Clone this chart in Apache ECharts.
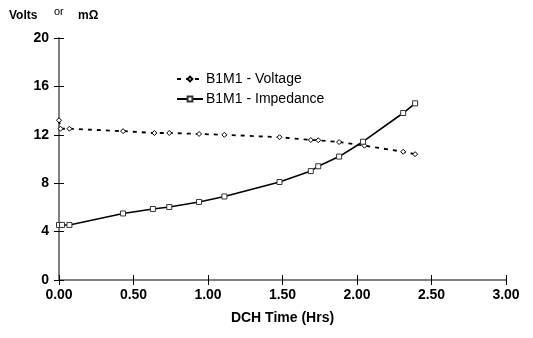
<!DOCTYPE html>
<html><head><meta charset="utf-8">
<script src="https://cdn.jsdelivr.net/npm/echarts@6/dist/echarts.min.js"></script>
<style>html,body{margin:0;padding:0;background:#fff}#c{width:533px;height:338px}</style>
</head><body><div id="c"></div>
<script>
var voltTime = [0, 0.01, 0.07, 0.43, 0.64, 0.74, 0.94, 1.11, 1.48, 1.69, 1.74, 1.88, 2.05, 2.31, 2.39];
var voltValues = [13.2, 12.5, 12.5, 12.3, 12.15, 12.15, 12.07, 12.0, 11.8, 11.57, 11.55, 11.4, 11.1, 10.6, 10.4];
var impTime = [0, 0.02, 0.07, 0.43, 0.63, 0.74, 0.94, 1.11, 1.48, 1.69, 1.74, 1.88, 2.04, 2.31, 2.39];
var impValues = [4.55, 4.55, 4.55, 5.5, 5.87, 6.03, 6.45, 6.9, 8.1, 9.0, 9.4, 10.2, 11.43, 13.8, 14.6];
var xTicks = [0, 0.5, 1, 1.5, 2, 2.5, 3];
var yTicks = [0, 4, 8, 12, 16, 20];
var seriesNames = ['B1M1 - Voltage', 'B1M1 - Impedance'];

function pairs(xs, ys){ return xs.map(function(x,i){ return [x, ys[i]]; }); }
var FONT = 'Liberation Sans, Arial, sans-serif';
var chart = echarts.init(document.getElementById('c'), null, {renderer:'canvas'});
var axisCol = '#808080';
chart.setOption({
  animation: false,
  backgroundColor: '#fff',
  textStyle: {fontFamily: FONT},
  grid: {left: 59, right: 27, top: 38, bottom: 58},
  legend: {
    orient: 'vertical', left: 171, top: 67, itemGap: 6, itemWidth: 26, itemHeight: 6,
    data: seriesNames,
    textStyle: {fontFamily: FONT, fontSize: 14, color: '#000', padding: [0,0,0,-2]}
  },
  graphic: [
    {type:'text', left: 9, top: 10, style:{text:'Volts', font:'bold 12px ' + FONT, fill:'#000'}},
    {type:'text', left: 54, top: 6, style:{text:'or', font:'11px ' + FONT, fill:'#000'}},
    {type:'text', left: 78, top: 10, style:{text:'mΩ', font:'bold 12px ' + FONT, fill:'#000'}}
  ],
  xAxis: [{
    type: 'value', min: 0, max: 3, interval: 0.5,
    name: 'DCH Time (Hrs)', nameLocation: 'middle', nameGap: 31,
    nameTextStyle: {fontFamily: FONT, fontSize: 14, fontWeight: 'bold', color: '#000'},
    axisLine: {show: true, lineStyle: {color: axisCol, width: 2}},
    axisTick: {show: true, length: 5, lineStyle: {color: '#000', width: 1}},
    axisLabel: {fontFamily: FONT, fontSize: 14, fontWeight: 'bold', color: '#000', margin: 8,
      formatter: function(v){ return v.toFixed(2); }},
    splitLine: {show: false}
  }, {
    type: 'value', min: 0, max: 3, interval: 0.5, position: 'bottom',
    axisLine: {show: false}, axisTick: {show: true, inside: true, length: 5, lineStyle: {color: '#000'}},
    axisLabel: {show: false}, splitLine: {show: false}
  }],
  yAxis: [{
    type: 'value', min: 0, max: 20, interval: 4,
    axisLine: {show: true, lineStyle: {color: axisCol, width: 2}},
    axisTick: {show: true, length: 5, lineStyle: {color: '#000', width: 1}},
    axisLabel: {fontFamily: FONT, fontSize: 14, fontWeight: 'bold', color: '#000', margin: 10,
      formatter: function(v){ return yTicks.indexOf(v) >= 0 ? String(v) : ''; }},
    splitLine: {show: false}
  }, {
    type: 'value', min: 0, max: 20, interval: 4, position: 'left',
    axisLine: {show: false}, axisTick: {show: true, inside: true, length: 5, lineStyle: {color: '#000'}},
    axisLabel: {show: false}, splitLine: {show: false}
  }],
  series: [{
    name: seriesNames[0], type: 'line', data: pairs(voltTime, voltValues),
    symbol: 'diamond', symbolSize: 5,
    itemStyle: {color: '#fff', borderColor: '#000', borderWidth: 1},
    lineStyle: {color: '#000', width: 1.8, type: [4, 5]},
    z: 3
  }, {
    name: seriesNames[1], type: 'line', data: pairs(impTime, impValues),
    symbol: 'rect', symbolSize: 5,
    itemStyle: {color: '#fff', borderColor: '#333', borderWidth: 1},
    lineStyle: {color: '#000', width: 1.6},
    z: 4
  }]
});
</script></body></html>
